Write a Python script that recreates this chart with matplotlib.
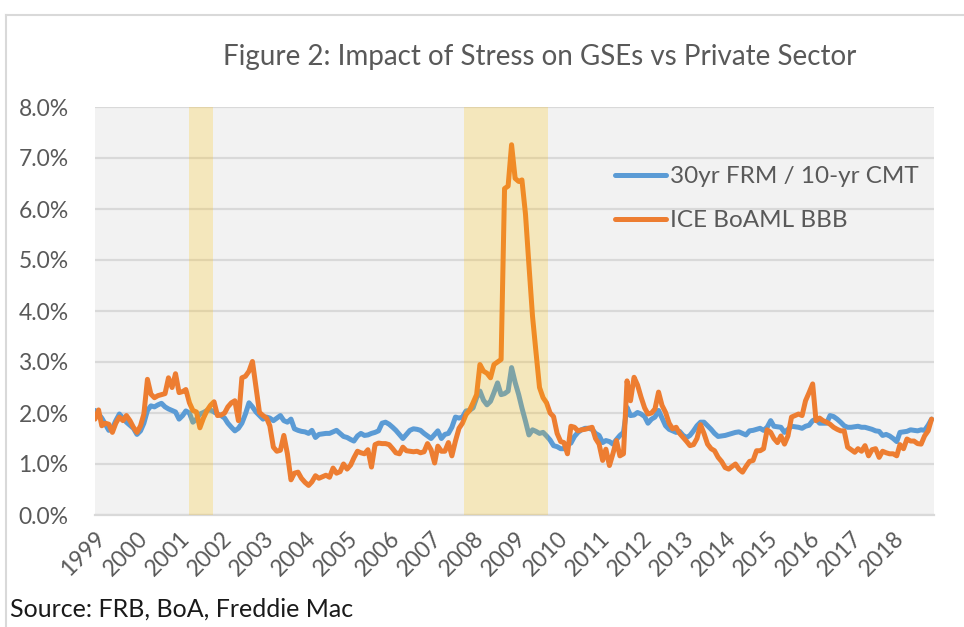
import matplotlib
matplotlib.use("Agg")
import matplotlib.pyplot as plt
import matplotlib.transforms as mtransforms
from matplotlib.lines import Line2D
from matplotlib.ticker import FuncFormatter
import numpy as np
import pandas as pd

# monthly spreads (%), Jan 1999 - Dec 2018
frm_cmt = [
    2.05, 1.98, 1.90, 1.78, 1.66, 1.70, 1.85, 1.98, 1.90, 1.82, 1.76, 1.70,  # 1999
    1.58, 1.65, 1.80, 2.05, 2.14, 2.12, 2.16, 2.19, 2.12, 2.08, 2.05, 2.02,  # 2000
    1.88, 1.95, 2.04, 2.00, 1.82, 1.88, 1.98, 2.01, 2.05, 2.06, 2.02, 1.98,  # 2001
    1.95, 1.90, 1.80, 1.72, 1.65, 1.70, 1.80, 1.98, 2.20, 2.12, 2.02, 1.95,  # 2002
    1.88, 1.92, 1.90, 1.85, 1.90, 1.95, 1.85, 1.82, 1.88, 1.69, 1.66, 1.64,  # 2003
    1.63, 1.60, 1.66, 1.52, 1.58, 1.59, 1.60, 1.60, 1.63, 1.66, 1.60, 1.54,  # 2004
    1.52, 1.48, 1.45, 1.55, 1.60, 1.56, 1.57, 1.60, 1.62, 1.65, 1.80, 1.82,  # 2005
    1.78, 1.72, 1.66, 1.58, 1.50, 1.58, 1.66, 1.69, 1.68, 1.66, 1.60, 1.55,  # 2006
    1.50, 1.58, 1.65, 1.50, 1.58, 1.60, 1.72, 1.92, 1.90, 1.92, 2.04, 2.05,  # 2007
    2.10, 2.30, 2.43, 2.25, 2.16, 2.23, 2.40, 2.59, 2.36, 2.38, 2.43, 2.89,  # 2008
    2.60, 2.36, 2.10, 1.84, 1.57, 1.67, 1.64, 1.60, 1.62, 1.55, 1.47, 1.36,  # 2009
    1.34, 1.30, 1.30, 1.38, 1.41, 1.54, 1.62, 1.67, 1.70, 1.70, 1.68, 1.60,  # 2010
    1.56, 1.42, 1.46, 1.44, 1.39, 1.48, 1.56, 1.62, 2.11, 1.95, 1.96, 2.01,  # 2011
    1.98, 1.93, 1.80, 1.88, 1.92, 2.05, 1.90, 1.75, 1.68, 1.65, 1.62, 1.64,  # 2012
    1.56, 1.52, 1.56, 1.65, 1.75, 1.82, 1.82, 1.75, 1.68, 1.60, 1.54, 1.55,  # 2013
    1.56, 1.58, 1.60, 1.62, 1.63, 1.60, 1.57, 1.65, 1.66, 1.68, 1.70, 1.66,  # 2014
    1.72, 1.85, 1.74, 1.73, 1.72, 1.62, 1.68, 1.74, 1.73, 1.72, 1.70, 1.74,  # 2015
    1.76, 1.85, 1.88, 1.80, 1.80, 1.80, 1.95, 1.93, 1.88, 1.82, 1.75, 1.72,  # 2016
    1.72, 1.73, 1.74, 1.72, 1.72, 1.70, 1.68, 1.65, 1.64, 1.56, 1.58, 1.55,  # 2017
    1.50, 1.44, 1.62, 1.63, 1.64, 1.67, 1.66, 1.65, 1.67, 1.66, 1.76, 1.88,  # 2018
]
bbb = [
    1.88, 2.06, 1.75, 1.80, 1.78, 1.62, 1.80, 1.92, 1.85, 1.95, 1.85, 1.72,  # 1999
    1.62, 1.75, 1.98, 2.66, 2.37, 2.30, 2.34, 2.36, 2.38, 2.69, 2.50, 2.77,  # 2000
    2.40, 2.42, 2.46, 2.20, 2.05, 2.02, 1.71, 1.90, 2.05, 2.15, 2.22, 1.95,  # 2001
    1.96, 2.00, 2.12, 2.20, 2.24, 1.85, 2.69, 2.72, 2.82, 3.01, 2.50, 2.01,  # 2002
    1.95, 1.90, 1.75, 1.33, 1.25, 1.27, 1.56, 1.20, 0.69, 0.82, 0.84, 0.72,  # 2003
    0.64, 0.58, 0.65, 0.77, 0.72, 0.75, 0.78, 0.74, 0.92, 0.82, 0.85, 1.00,  # 2004
    0.90, 0.98, 1.12, 1.25, 1.22, 1.20, 1.28, 0.94, 1.38, 1.41, 1.40, 1.40,  # 2005
    1.38, 1.30, 1.22, 1.20, 1.33, 1.26, 1.25, 1.24, 1.25, 1.22, 1.24, 1.40,  # 2006
    1.28, 1.02, 1.35, 1.25, 1.25, 1.42, 1.16, 1.45, 1.70, 1.80, 1.97, 2.05,  # 2007
    2.20, 2.36, 2.95, 2.82, 2.78, 2.69, 2.95, 3.00, 3.05, 6.40, 6.45, 7.26,  # 2008
    6.60, 6.54, 6.57, 5.90, 4.90, 3.90, 3.20, 2.50, 2.30, 2.20, 2.00, 1.93,  # 2009
    1.60, 1.44, 1.42, 1.20, 1.74, 1.72, 1.65, 1.67, 1.68, 1.70, 1.72, 1.50,  # 2010
    1.39, 1.07, 1.29, 0.97, 1.20, 1.46, 1.16, 1.20, 2.63, 2.24, 2.70, 2.55,  # 2011
    2.31, 2.10, 1.98, 2.00, 2.08, 2.41, 2.15, 2.01, 1.80, 1.69, 1.72, 1.60,  # 2012
    1.52, 1.44, 1.36, 1.38, 1.50, 1.77, 1.60, 1.39, 1.30, 1.26, 1.13, 1.05,  # 2013
    0.93, 0.90, 0.95, 1.00, 0.90, 0.84, 0.95, 1.05, 1.07, 1.26, 1.26, 1.30,  # 2014
    1.67, 1.62, 1.50, 1.42, 1.55, 1.39, 1.55, 1.92, 1.95, 1.98, 1.95, 2.24,  # 2015
    2.40, 2.57, 1.85, 1.90, 1.85, 1.82, 1.78, 1.72, 1.68, 1.65, 1.65, 1.33,  # 2016
    1.28, 1.23, 1.30, 1.25, 1.36, 1.16, 1.28, 1.30, 1.13, 1.25, 1.22, 1.20,  # 2017
    1.20, 1.16, 1.38, 1.30, 1.49, 1.45, 1.45, 1.40, 1.39, 1.55, 1.65, 1.88,  # 2018
]
# stress periods shaded on the chart
stress_start = ["2001-04-01", "2007-10-12"]
stress_end = ["2001-10-20", "2009-10-12"]
years = list(range(1999, 2019))

dates = pd.date_range("1999-01-01", periods=len(frm_cmt), freq="MS")

grey_txt = "#595959"
plt.rcParams["font.family"] = ["Lato", "DejaVu Sans"]

fig = plt.figure(figsize=(9.64, 6.27), dpi=100)
ax = fig.add_axes([95 / 964, 1 - 515 / 627, 839 / 964, 408 / 627])
ax.set_facecolor("#F2F2F2")

ax.plot(dates, frm_cmt, color="#5B9BD5", lw=3.6, solid_capstyle="round",
        label="30yr FRM / 10-yr CMT", zorder=3)
ax.plot(dates, bbb, color="#ED7D31", lw=3.6, solid_capstyle="round",
        label="ICE BoAML BBB", zorder=3)
for s, e in zip(stress_start, stress_end):
    ax.axvspan(pd.Timestamp(s), pd.Timestamp(e), color="#FFC000", alpha=0.22,
               lw=0, zorder=4)

ax.set_ylim(0, 8)
ax.set_yticks(np.arange(0, 9, 1))
ax.yaxis.set_major_formatter(FuncFormatter(lambda v, p: f"{v:.1f}%"))
ax.grid(axis="y", color="#D9D9D9", lw=1.6, zorder=1)
ax.set_axisbelow(True)
ax.set_xlim(dates[0], dates[-1] + pd.Timedelta(days=21))

tick_dates = [pd.Timestamp(f"{y}-01-01") for y in years]
ax.set_xticks(tick_dates)
ax.set_xticklabels([str(y) for y in years], rotation=45, ha="right",
                   va="top", rotation_mode="anchor")
shift = mtransforms.ScaledTranslation(8 / 100, 0, fig.dpi_scale_trans)
for lab in ax.get_xticklabels():
    lab.set_transform(lab.get_transform() + shift)

ax.tick_params(axis="both", length=0, colors=grey_txt, labelsize=16.5)
ax.tick_params(axis="y", pad=19)
ax.tick_params(axis="x", pad=9)
for sp in ["top", "right", "left"]:
    ax.spines[sp].set_visible(False)
ax.spines["bottom"].set_color("#D9D9D9")
ax.spines["bottom"].set_linewidth(1.6)

leg = ax.legend(loc="upper left", bbox_to_anchor=(0.62, 0.855), frameon=False,
                fontsize=17.5, handlelength=2.1, handletextpad=0.15,
                labelspacing=0.95, borderpad=0, borderaxespad=0)
for t in leg.get_texts():
    t.set_color(grey_txt)

fig.text(540 / 964, 1 - 57 / 627, "Figure 2: Impact of Stress on GSEs vs Private Sector",
         ha="center", va="center", fontsize=20, color=grey_txt)
fig.text(10 / 964, 1 - 609 / 627, "Source: FRB, BoA, Freddie Mac",
         ha="left", va="center", fontsize=18, color="#1a1a1a")

# outer chart border
fig.add_artist(Line2D([6 / 964, 1], [1 - 15 / 627, 1 - 15 / 627],
                      transform=fig.transFigure, color="#D9D9D9", lw=1.5))
fig.add_artist(Line2D([6 / 964, 6 / 964], [0, 1 - 15 / 627],
                      transform=fig.transFigure, color="#D9D9D9", lw=1.5))

fig.savefig("out.png", dpi=100)
